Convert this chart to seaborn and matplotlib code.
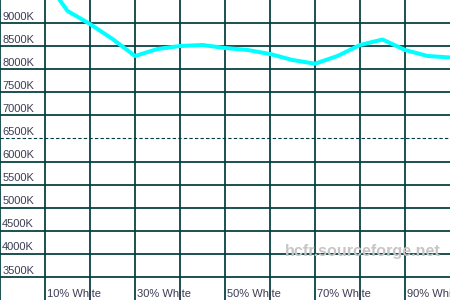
import matplotlib
matplotlib.use("Agg")
import matplotlib.pyplot as plt
import seaborn as sns
import pandas as pd

# Data
levels = [10, 15, 20, 25, 30, 35, 40, 45, 50, 55, 60, 65, 70, 75, 80, 85, 90, 95, 100]
color_temp = [9950, 9262, 8980, 8655, 8287, 8438, 8503, 8525, 8460, 8417, 8330,
              8200, 8120, 8287, 8525, 8644, 8417, 8287, 8254]
y_ticks = [3500, 4000, 4500, 5000, 5500, 6000, 6500, 7000, 7500, 8000, 8500, 9000]
y_labels = [f"{v}K" for v in y_ticks]
x_ticks = [0, 10, 20, 30, 40, 50, 60, 70, 80, 90]
x_label_pos = [10, 30, 50, 70, 90]
x_labels = ["10% White", "30% White", "50% White", "70% White", "90% White"]
reference_temp = 6500
watermark = "hcfr.sourceforge.net"

sns.set_style("white")
plt.rcParams["font.family"] = ["Liberation Sans", "DejaVu Sans"]

fig = plt.figure(figsize=(4.5, 3), dpi=100)
ax = fig.add_axes([0, 0, 1, 1])
ax.set_xlim(0, 100)
ax.set_ylim(3000, 9500)

grid_color = "#003c3c"
ax.set_xticks(x_ticks)
ax.set_yticks([v for v in y_ticks if v != reference_temp])
ax.grid(True, color=grid_color, linewidth=1.25)
ax.axhline(reference_temp, color=grid_color, linewidth=0.8, linestyle=(0, (3, 2)))
ax.tick_params(left=False, bottom=False, labelleft=False, labelbottom=False)
for s in ax.spines.values():
    s.set_visible(False)
ax.set_axisbelow(True)

df = pd.DataFrame({"level": levels, "temp": color_temp})
sns.lineplot(data=df, x="level", y="temp", ax=ax, color="#00ffff",
             linewidth=2.9, zorder=3)
ax.set_xlabel("")
ax.set_ylabel("")

label_color = "#3c3c55"
for v, lab in zip(y_ticks, y_labels):
    ax.text(0.5, v + 30, lab, fontsize=8, color=label_color,
            ha="left", va="bottom", zorder=4)
for v, lab in zip(x_label_pos, x_labels):
    ax.text(v + 0.45, 3140, lab, fontsize=8, color=label_color,
            ha="left", va="center", zorder=4)

ax.text(63.3, 4050, watermark, fontsize=11.6, color="#c6c6c6",
        fontweight="bold", ha="left", va="center", zorder=4)

fig.savefig("out.png", dpi=100)
